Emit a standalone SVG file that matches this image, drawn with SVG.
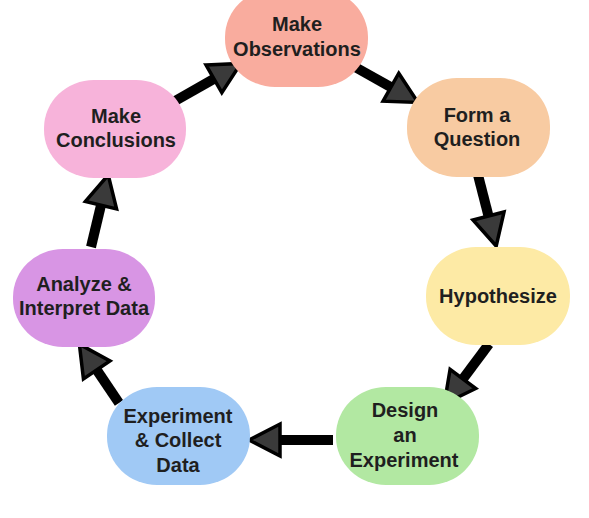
<svg xmlns="http://www.w3.org/2000/svg" width="589" height="518" viewBox="0 0 589 518">
<style>
.lbl{font-family:"Liberation Sans",Arial,sans-serif;font-weight:bold;font-size:20px;fill:#1f1f1f;text-anchor:middle}
.shaft{stroke:#000;stroke-width:10;fill:none;marker-end:url(#ah)}
</style>
<defs>
<marker id="ah" markerUnits="userSpaceOnUse" markerWidth="46" markerHeight="46" viewBox="-4 -23 46 46" refX="0" refY="0" orient="auto" overflow="visible">
<path d="M0,-16 L31,0 L0,16 Z" fill="#3a3a3a" stroke="#000" stroke-width="3.5" stroke-linejoin="miter"/>
</marker>
</defs>
<rect width="589" height="518" fill="#fff"/>
<g id="connectors">
<line class="shaft" x1="175" y1="101" x2="213.9" y2="78.8"/>
<line class="shaft" x1="355" y1="67" x2="390.9" y2="87.2"/>
<line class="shaft" x1="478" y1="175" x2="488.5" y2="216"/>
<line class="shaft" x1="489" y1="344" x2="462.9" y2="378.9"/>
<line class="shaft" x1="333" y1="440" x2="280" y2="440"/>
<line class="shaft" x1="119" y1="403" x2="96.7" y2="369.9"/>
<line class="shaft" x1="91" y1="247" x2="101" y2="205.2"/>
</g>
<g id="make-observations">
<rect x="225" y="-11" width="143" height="98" rx="50" ry="48" fill="#F9AC9E"/>
<text class="lbl" x="297" y="31">Make</text>
<text class="lbl" x="297" y="56">Observations</text>
</g>
<g id="form-question">
<rect x="407" y="78" width="143" height="99" rx="50" ry="48" fill="#F8CBA2"/>
<text class="lbl" x="477" y="122">Form a</text>
<text class="lbl" x="477" y="146">Question</text>
</g>
<g id="hypothesize">
<rect x="426" y="247" width="144" height="98" rx="50" ry="48" fill="#FDEAA5"/>
<text class="lbl" x="498" y="303">Hypothesize</text>
</g>
<g id="design-experiment">
<rect x="336" y="387" width="143" height="98" rx="50" ry="48" fill="#B2E8A2"/>
<text class="lbl" x="405" y="417">Design</text>
<text class="lbl" x="405" y="442">an</text>
<text class="lbl" x="404" y="467">Experiment</text>
</g>
<g id="experiment-collect">
<rect x="107" y="387" width="143" height="98" rx="50" ry="48" fill="#A0C9F5"/>
<text class="lbl" x="178" y="423">Experiment</text>
<text class="lbl" x="178" y="447">&amp; Collect</text>
<text class="lbl" x="178" y="472">Data</text>
</g>
<g id="analyze-interpret">
<rect x="13" y="249" width="142" height="98" rx="50" ry="48" fill="#D895E4"/>
<text class="lbl" x="84" y="291">Analyze &amp;</text>
<text class="lbl" x="84" y="315">Interpret Data</text>
</g>
<g id="make-conclusions">
<rect x="44" y="80" width="142" height="98" rx="50" ry="48" fill="#F7B3DA"/>
<text class="lbl" x="116" y="123">Make</text>
<text class="lbl" x="116" y="147">Conclusions</text>
</g>
</svg>
